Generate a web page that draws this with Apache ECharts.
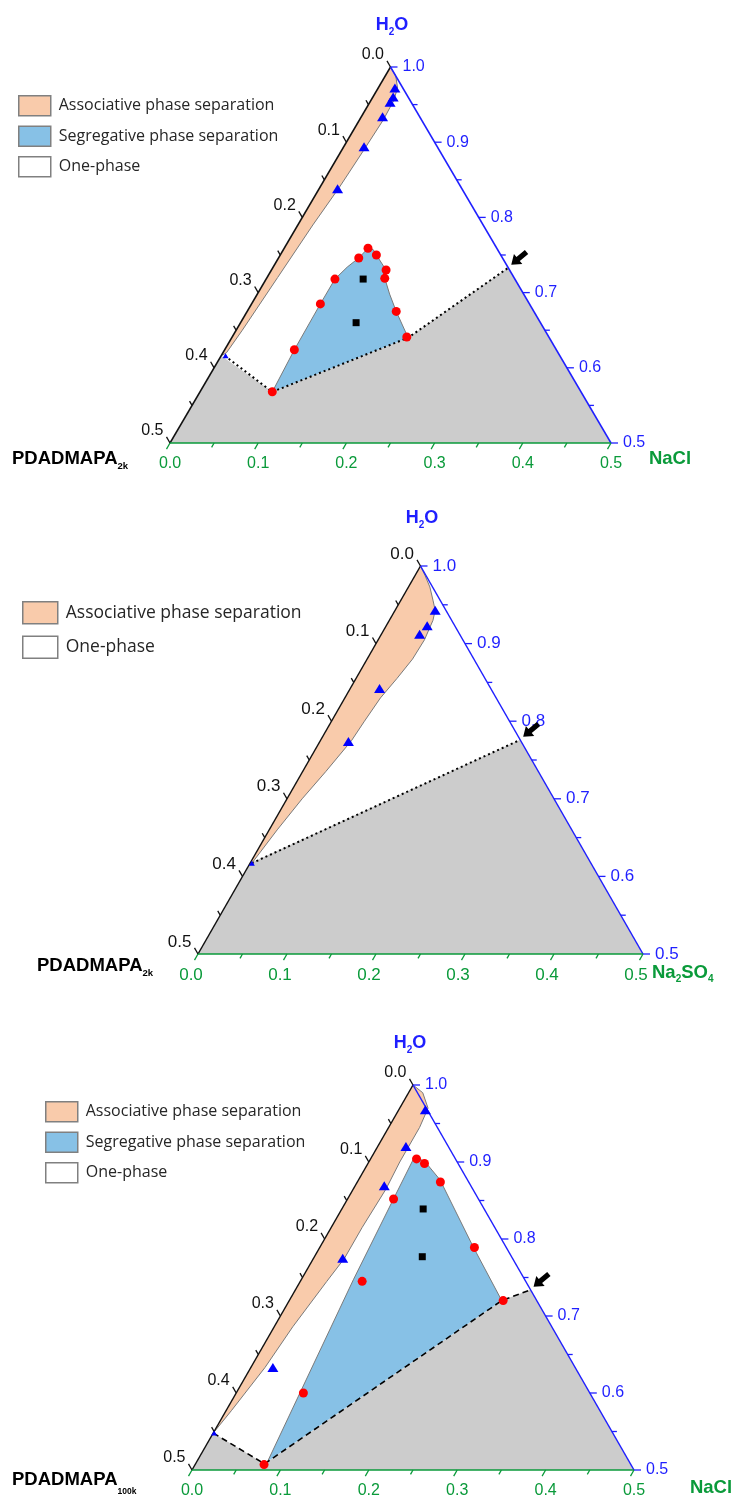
<!DOCTYPE html>
<html>
<head>
<meta charset="utf-8">
<script src="https://cdn.jsdelivr.net/npm/echarts@6/dist/echarts.min.js"></script>
<style>
  html, body { margin: 0; padding: 0; background: #fff; }
  #main { width: 755px; height: 1499px; }
</style>
</head>
<body>
<div id="main"></div>
<script>
// ternary corner of the phase diagram: points are [salt, water] mass fractions
// (polymer = 1 - salt - water)

const saltTicks = [0, 0.05, 0.1, 0.15, 0.2, 0.25, 0.3, 0.35, 0.4, 0.45, 0.5];
const saltLabels = ['0.0', '0.1', '0.2', '0.3', '0.4', '0.5'];
const waterTicks = [1.0, 0.95, 0.9, 0.85, 0.8, 0.75, 0.7, 0.65, 0.6, 0.55, 0.5];
const waterLabels = ['1.0', '0.9', '0.8', '0.7', '0.6', '0.5'];
const polyTicks = [0, 0.05, 0.1, 0.15, 0.2, 0.25, 0.3, 0.35, 0.4, 0.45, 0.5];
const polyLabels = ['0.0', '0.1', '0.2', '0.3', '0.4', '0.5'];

const onePhase = [[0, 0.5], [0, 1], [0.5, 0.5]];

// --- PDADMAPA 2k / NaCl
const p1Orange = [[0, 1], [0.012, 0.988], [0.022, 0.972], [0.026, 0.955], [0.027, 0.93], [0.025, 0.89],
  [0.022, 0.84], [0.017, 0.79], [0.012, 0.72], [0.007, 0.65], [0.004, 0.62], [0, 0.616]];
const p1Blue = [[0.082, 0.568], [0.079, 0.624], [0.078, 0.685], [0.078, 0.718], [0.084, 0.734], [0.091, 0.746],
  [0.095, 0.759], [0.102, 0.757], [0.109, 0.750], [0.130, 0.730], [0.134, 0.719], [0.150, 0.698],
  [0.169, 0.675], [0.200, 0.640]];
const p1Gray = [[0, 0.5], [0, 0.616], [0.082, 0.568], [0.200, 0.640], [0.267, 0.733], [0.5, 0.5]];
const p1Dotted = [[0.004, 0.616], [0.082, 0.568], [0.200, 0.640], [0.267, 0.733]];
const p1Triangles = [[0.019, 0.972], [0.023, 0.960], [0.023, 0.953], [0.024, 0.934], [0.023, 0.894], [0.021, 0.838]];
const p1Tiny = [[0.005, 0.616]];
const p1Circles = [[0.095, 0.759], [0.091, 0.746], [0.109, 0.750], [0.130, 0.730], [0.134, 0.719], [0.078, 0.718],
  [0.078, 0.685], [0.169, 0.675], [0.198, 0.641], [0.079, 0.624], [0.082, 0.568]];
const p1Squares = [[0.110, 0.718], [0.131, 0.660]];
const p1Arrow = [[0.267, 0.733]];

// --- PDADMAPA 2k / Na2SO4
const p2Orange = [[0, 1], [0.011, 0.988], [0.024, 0.973], [0.036, 0.956], [0.045, 0.943], [0.049, 0.93],
  [0.052, 0.905], [0.051, 0.88], [0.046, 0.855], [0.040, 0.83], [0.037, 0.80], [0.035, 0.775],
  [0.026, 0.735], [0.017, 0.70], [0.009, 0.66], [0.002, 0.617], [0, 0.617]];
const p2Gray = [[0, 0.5], [0, 0.617], [0.224, 0.776], [0.5, 0.5]];
const p2Dotted = [[0.002, 0.617], [0.224, 0.776]];
const p2Triangles = [[0.045, 0.943], [0.046, 0.923], [0.043, 0.912], [0.033, 0.842], [0.032, 0.774]];
const p2Tiny = [[0.002, 0.617]];
const p2Arrow = [[0.224, 0.776]];

// --- PDADMAPA 100k / NaCl
const p3Orange = [[0, 1], [0.016, 0.99], [0.032, 0.97], [0.035, 0.945], [0.035, 0.90], [0.037, 0.865],
  [0.035, 0.815], [0.035, 0.775], [0.030, 0.745], [0.021, 0.686], [0.016, 0.633], [0.006, 0.577], [0, 0.548]];
const p3Blue = [[0.080, 0.511], [0.059, 0.747], [0.052, 0.851], [0.0486, 0.9035], [0.052, 0.9056],
  [0.0634, 0.9004], [0.092, 0.877], [0.173, 0.790], [0.2404, 0.720]];
const p3Gray = [[0, 0.5], [0, 0.548], [0.078, 0.508], [0.2404, 0.720], [0.266, 0.734], [0.5, 0.5]];
const p3Dashed = [[0, 0.548], [0.078, 0.508], [0.2404, 0.720], [0.266, 0.734]];
const p3Triangles = [[0.030, 0.968], [0.032, 0.920], [0.033, 0.869], [0.033, 0.775], [0.025, 0.633]];
const p3Tiny = [[0.001, 0.548]];
const p3Circles = [[0.052, 0.904], [0.064, 0.898], [0.094, 0.874], [0.052, 0.852], [0.175, 0.789],
  [0.070, 0.745], [0.242, 0.720], [0.076, 0.600], [0.078, 0.507]];
const p3Squares = [[0.092, 0.839], [0.122, 0.777]];
const p3Arrow = [[0.266, 0.734]];

const SQ = Math.sqrt(3) / 2;
const tern = (salt, water) => [salt + (water - 0.5) / 2, (water - 0.5) * SQ];

const ORANGE = '#F9CBAB', BLUE = '#87C1E6', GRAY = '#CCCCCC';
const GREEN = '#0A9A3A', AXBLUE = '#1F1FFF', BLACK = '#111111';
const FONT = 'Liberation Sans, Arial, sans-serif';
const NAMES = ['Associative phase separation', 'Segregative phase separation', 'One-phase'];

const panels = [
  { grid: { left: 170, top: 67, width: 441, height: 376 }, orange: p1Orange, blue: p1Blue, gray: p1Gray,
    line: p1Dotted, dash: [2, 3], lineW: 2, tri: p1Triangles, tiny: p1Tiny, circ: p1Circles, sq: p1Squares,
    arrow: p1Arrow, font: 16, saltShift: 0 },
  { grid: { left: 198, top: 566, width: 445, height: 388 }, orange: p2Orange, blue: null, gray: p2Gray,
    line: p2Dotted, dash: [2, 3], lineW: 2, tri: p2Triangles, tiny: p2Tiny, circ: [], sq: [],
    arrow: p2Arrow, font: 17, saltShift: -7 },
  { grid: { left: 192, top: 1085, width: 442, height: 385 }, orange: p3Orange, blue: p3Blue, gray: p3Gray,
    line: p3Dashed, dash: [6, 4], lineW: 1.6, tri: p3Triangles, tiny: p3Tiny, circ: p3Circles, sq: p3Squares,
    arrow: p3Arrow, font: 16, saltShift: 0 }
];

const chart = echarts.init(document.getElementById('main'));

let series = [];

panels.forEach((p, i) => {
  const ax = { xAxisIndex: i, yAxisIndex: i, silent: true, animation: false };
  const toPx = (api, pts) => pts.map(q => api.coord(tern(q[0], q[1])));

  const region = (name, pts, fill, z, outline) => ({
    type: 'custom', name, ...ax, z, clip: false,
    itemStyle: { color: fill },
    data: [[0, 0]],
    renderItem: (params, api) => {
      const kids = [{ type: 'polygon', shape: { points: toPx(api, pts) }, style: { fill } }];
      if (outline) {
        kids.push({ type: 'polyline', shape: { points: toPx(api, pts) },
          style: { fill: null, stroke: '#7a7a7a', lineWidth: 1 } });
      }
      return { type: 'group', children: kids };
    }
  });

  series.push(region(NAMES[2], onePhase, '#ffffff', 1, false));
  series.push(region('Uninvestigated', p.gray, GRAY, 2, false));
  series.push(region(NAMES[0], p.orange, ORANGE, 3, true));
  if (p.blue) series.push(region(NAMES[1], p.blue, BLUE, 4, true));

  series.push({
    type: 'line', ...ax, z: 5, clip: false, symbol: 'none',
    data: p.line.map(q => tern(q[0], q[1])),
    lineStyle: { color: '#000', width: p.lineW, type: p.dash }
  });

  // triangle edges
  const edge = (pts, color) => ({
    type: 'line', ...ax, z: 6, clip: false, symbol: 'none',
    data: pts.map(q => tern(q[0], q[1])),
    lineStyle: { color, width: 1.5 }
  });
  series.push(edge([[0, 0.5], [0, 1]], BLACK));
  series.push(edge([[0, 1], [0.5, 0.5]], AXBLUE));
  series.push(edge([[0, 0.5], [0.5, 0.5]], GREEN));

  // ticks + tick labels
  const ticks = (kind, values, labels, color) => ({
    type: 'custom', ...ax, z: 6, clip: false,
    data: values.map(v => [v, 0]),
    renderItem: (params, api) => {
      const v = api.value(0);
      const major = params.dataIndex % 2 === 0;
      const len = major ? 7 : 5;
      let base, dir;
      if (kind === 'salt') { base = api.coord(tern(v, 0.5)); dir = [-0.5, SQ]; }
      else if (kind === 'water') { base = api.coord(tern(1 - v, v)); dir = [1, 0]; }
      else { base = api.coord(tern(0, 1 - v)); dir = [-0.5, -SQ]; }
      const end = [base[0] + dir[0] * len, base[1] + dir[1] * len];
      const kids = [{ type: 'line', shape: { x1: base[0], y1: base[1], x2: end[0], y2: end[1] },
        style: { stroke: color, lineWidth: 1.3 } }];
      if (major) {
        let x, y, align, va;
        if (kind === 'salt') { x = base[0] + p.saltShift; y = base[1] + 13; align = 'center'; va = 'top'; }
        else if (kind === 'water') { x = end[0] + 5; y = base[1]; align = 'left'; va = 'middle'; }
        else { x = end[0] - 3; y = end[1] - 6; align = 'right'; va = 'middle'; }
        kids.push({ type: 'text', x, y, style: { text: labels[params.dataIndex / 2], fill: color,
          fontSize: p.font, fontFamily: FONT, align, verticalAlign: va } });
      }
      return { type: 'group', children: kids };
    }
  });
  series.push(ticks('salt', saltTicks, saltLabels, GREEN));
  series.push(ticks('water', waterTicks, waterLabels, AXBLUE));
  series.push(ticks('poly', polyTicks, polyLabels, BLACK));

  // measured points
  const pts = (data, symbol, size, color) => ({
    type: 'scatter', ...ax, z: 7, clip: false, symbol, symbolSize: size,
    data: data.map(q => tern(q[0], q[1])),
    itemStyle: { color, opacity: 1 }
  });
  series.push(pts(p.tri, 'triangle', [11, 9], '#0000FF'));
  series.push(pts(p.tiny, 'triangle', [6, 5], '#0000FF'));
  if (p.circ.length) series.push(pts(p.circ, 'circle', 9, '#FF0000'));
  if (p.sq.length) series.push(pts(p.sq, 'rect', 7, '#000000'));

  // arrow marking the end of the investigated range on the water axis
  series.push({
    type: 'custom', ...ax, z: 8, clip: false,
    data: p.arrow.map(q => tern(q[0], q[1])),
    renderItem: (params, api) => {
      const c = api.coord([api.value(0), api.value(1)]);
      return {
        type: 'polygon', x: c[0] + 3, y: c[1] - 3, rotation: 0.7,
        shape: { points: [[0, 0], [9, -6.5], [9, -2.6], [20, -2.6], [20, 2.6], [9, 2.6], [9, 6.5]] },
        style: { fill: '#000' }
      };
    }
  });
});

// bold labels with subscripts, pieces placed one after another
const measureCtx = document.createElement('canvas').getContext('2d');
const textWidth = (t, size) => {
  measureCtx.font = 'bold ' + size + 'px ' + FONT;
  return measureCtx.measureText(t).width;
};
const subLabel = (x, yMain, parts, fill, size, subSize, drop, align) => {
  const widths = parts.map(([t, s]) => textWidth(t, s ? subSize : size));
  const total = widths.reduce((a, b) => a + b, 0);
  let cx = align === 'center' ? x - total / 2 : x;
  const children = parts.map(([t, s], k) => {
    const el = {
      type: 'text', x: cx, y: yMain + (s ? drop : 0), silent: true,
      style: { text: t, fill, fontSize: s ? subSize : size, fontWeight: 'bold', fontFamily: FONT,
        align: 'left', verticalAlign: 'middle' }
    };
    cx += widths[k];
    return el;
  });
  return { type: 'group', children };
};

const areaText = (x, y) => ({
  type: 'text', x, y, silent: true,
  style: { text: 'Uninvestigated area', fill: '#333333', fontSize: 18.5, fontFamily: FONT,
    align: 'center', verticalAlign: 'middle' }
});

const water = [['H', false], ['2', true], ['O', false]];
const graphic = [
  subLabel(392, 25, water, AXBLUE, 18, 10, 7.5, 'center'),
  subLabel(422, 518, water, AXBLUE, 18, 10, 7.5, 'center'),
  subLabel(410, 1043, water, AXBLUE, 18, 10, 7.5, 'center'),
  subLabel(12, 459, [['PDADMAPA', false], ['2k', true]], '#000', 18.5, 9.5, 7.3, 'left'),
  subLabel(37, 966, [['PDADMAPA', false], ['2k', true]], '#000', 18.5, 9.5, 7.5, 'left'),
  subLabel(12, 1480, [['PDADMAPA', false], ['100k', true]], '#000', 18.5, 8.5, 12, 'left'),
  subLabel(670, 459, [['NaCl', false]], GREEN, 18.5, 10, 7, 'center'),
  subLabel(652, 973, [['Na', false], ['2', true], ['SO', false], ['4', true]], GREEN, 18.5, 10, 6.5, 'left'),
  subLabel(711, 1488, [['NaCl', false]], GREEN, 18.5, 10, 7, 'center'),
  areaText(393, 420),
  areaText(411, 895),
  areaText(470, 1422)
];

const legendBase = {
  orient: 'vertical', icon: 'rect', selectedMode: false, padding: 0,
  itemStyle: { borderColor: '#808080', borderWidth: 1.5 },
  textStyle: { fontFamily: 'Open Sans', color: '#262626', padding: [0, 0, 0, 3] }
};

chart.setOption({
  animation: false,
  grid: panels.map(p => ({ ...p.grid, containLabel: false })),
  xAxis: panels.map((p, i) => ({ gridIndex: i, type: 'value', min: 0, max: 0.5, show: false })),
  yAxis: panels.map((p, i) => ({ gridIndex: i, type: 'value', min: 0, max: SQ / 2, show: false })),
  legend: [
    { ...legendBase, left: 18, top: 95, itemWidth: 32, itemHeight: 20, itemGap: 9, data: NAMES,
      textStyle: { ...legendBase.textStyle, fontSize: 16 } },
    { ...legendBase, left: 22, top: 601, itemWidth: 35, itemHeight: 22, itemGap: 11, data: [NAMES[0], NAMES[2]],
      textStyle: { ...legendBase.textStyle, fontSize: 17.5 } },
    { ...legendBase, left: 45, top: 1101, itemWidth: 32, itemHeight: 20, itemGap: 9, data: NAMES,
      textStyle: { ...legendBase.textStyle, fontSize: 16 } }
  ],
  graphic,
  series
});
</script>
</body>
</html>
